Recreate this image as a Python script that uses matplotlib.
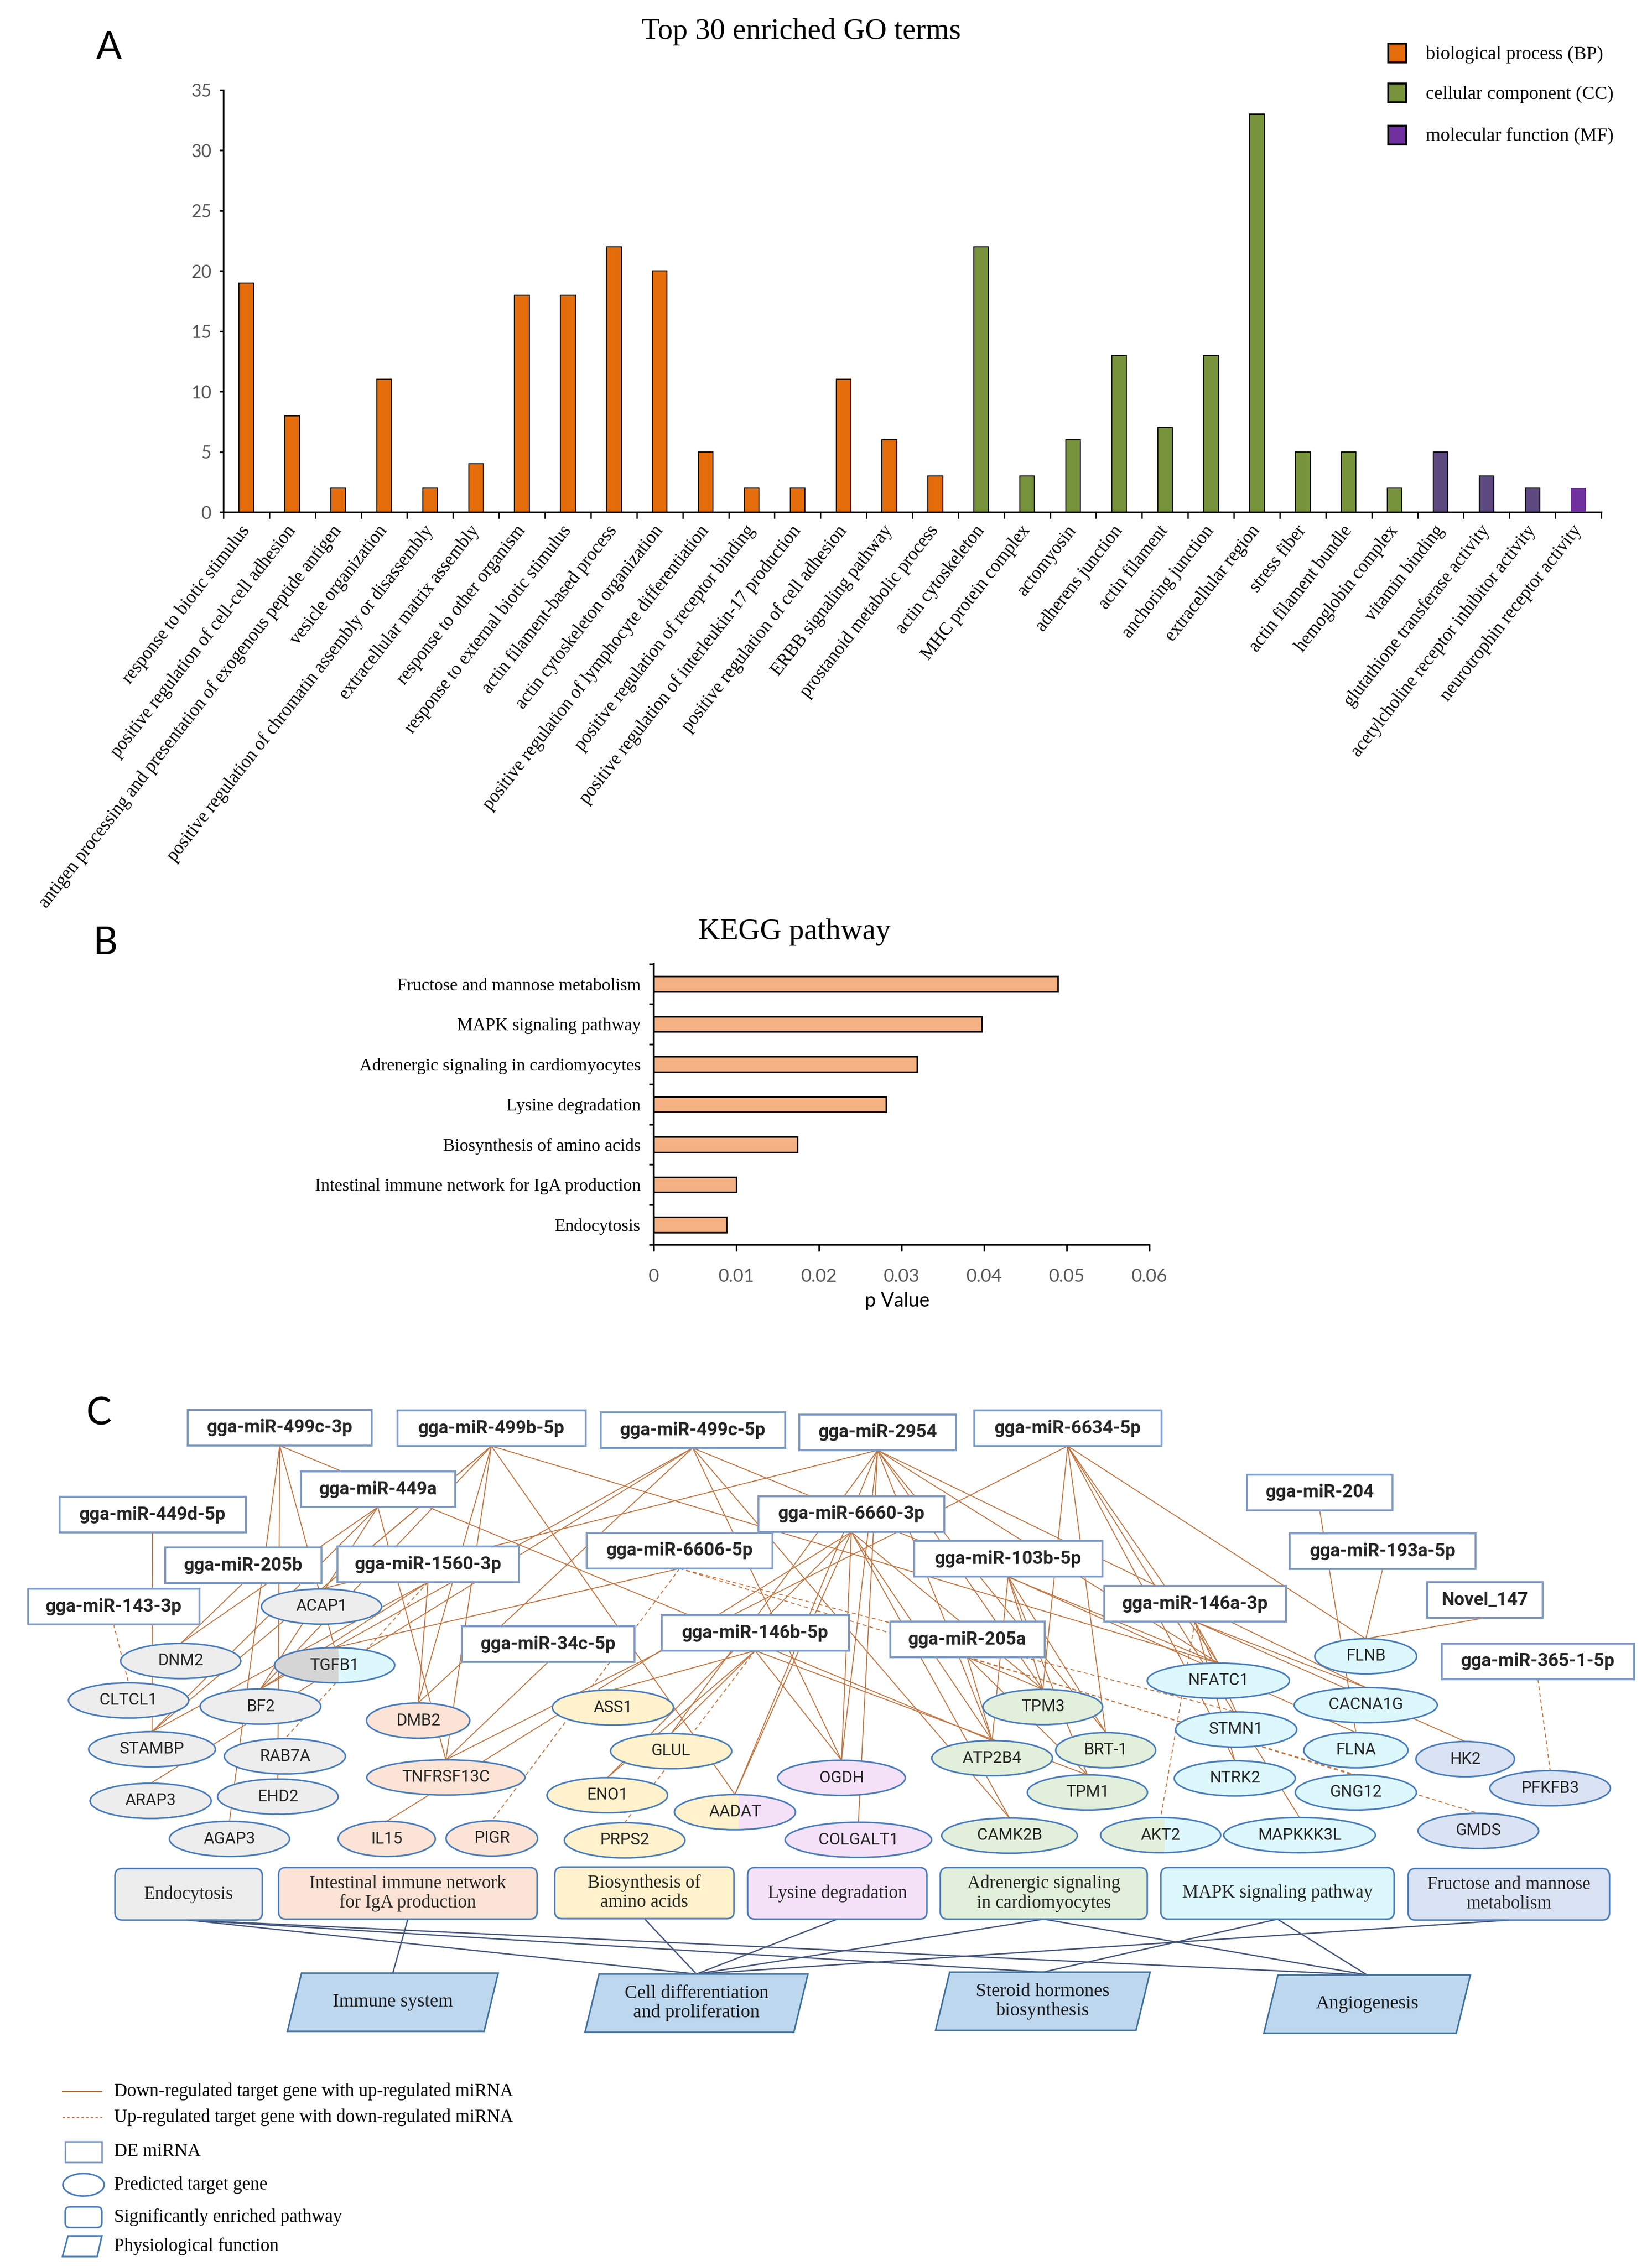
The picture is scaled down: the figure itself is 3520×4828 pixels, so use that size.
#!/usr/bin/env python3
# GO / KEGG enrichment bars and miRNA-target network (panels A, B, C)

import numpy as np
import matplotlib
matplotlib.use("Agg")
import matplotlib.pyplot as plt
from matplotlib.patches import Rectangle, Ellipse, FancyBboxPatch, Polygon

W, H = 3520, 4828
SERIF = "Liberation Serif"
SANS = "Lato"
NODE = "Roboto"

# ---------------- panel A data ----------------
go_terms = [
	"response to biotic stimulus",
	"positive regulation of cell-cell adhesion",
	"antigen processing and presentation of exogenous peptide antigen",
	"vesicle organization",
	"positive regulation of chromatin assembly or disassembly",
	"extracellular matrix assembly",
	"response to other organism",
	"response to external biotic stimulus",
	"actin filament-based process",
	"actin cytoskeleton organization",
	"positive regulation of lymphocyte differentiation",
	"positive regulation of receptor binding",
	"positive regulation of interleukin-17 production",
	"positive regulation of cell adhesion",
	"ERBB signaling pathway",
	"prostanoid metabolic process",
	"actin cytoskeleton",
	"MHC protein complex",
	"actomyosin",
	"adherens junction",
	"actin filament",
	"anchoring junction",
	"extracellular region",
	"stress fiber",
	"actin filament bundle",
	"hemoglobin complex",
	"vitamin binding",
	"glutathione transferase activity",
	"acetylcholine receptor inhibitor activity",
	"neurotrophin receptor activity",
]
go_counts = [19, 8, 2, 11, 2, 4, 18, 18, 22, 20, 5, 2, 2, 11, 6, 3,
	22, 3, 6, 13, 7, 13, 33, 5, 5, 2,
	5, 3, 2, 2]
go_class = ["BP"] * 16 + ["CC"] * 10 + ["MF"] * 4
go_legend = ["biological process (BP)", "cellular component (CC)", "molecular function (MF)"]

# ---------------- panel B data ----------------
kegg_terms = [
	"Fructose and mannose metabolism",
	"MAPK signaling pathway",
	"Adrenergic signaling in cardiomyocytes",
	"Lysine degradation",
	"Biosynthesis of amino acids",
	"Intestinal immune network for IgA production",
	"Endocytosis",
]
kegg_pvalues = [0.0489, 0.0397, 0.0319, 0.0281, 0.0174, 0.0100, 0.0088]
kegg_xticks = [0, 0.01, 0.02, 0.03, 0.04, 0.05, 0.06]

# ---------------- panel C data ----------------
mirnas = ["gga-miR-499c-3p", "gga-miR-499b-5p", "gga-miR-499c-5p", "gga-miR-2954",
	"gga-miR-6634-5p", "gga-miR-449a", "gga-miR-449d-5p", "gga-miR-6660-3p",
	"gga-miR-204", "gga-miR-205b", "gga-miR-1560-3p", "gga-miR-6606-5p",
	"gga-miR-103b-5p", "gga-miR-193a-5p", "Novel_147", "gga-miR-143-3p",
	"gga-miR-146a-3p", "gga-miR-34c-5p", "gga-miR-146b-5p", "gga-miR-205a",
	"gga-miR-365-1-5p"]

pathways = ["endo", "iga", "aa", "lys", "adr", "mapk", "fru"]
pathway_names = ["Endocytosis", "Intestinal immune network\nfor IgA production",
	"Biosynthesis of\namino acids", "Lysine degradation",
	"Adrenergic signaling\nin cardiomyocytes", "MAPK signaling pathway",
	"Fructose and mannose\nmetabolism"]

gene_pathway = {
	"ACAP1": ["endo"], "DNM2": ["endo"], "TGFB1": ["endo", "mapk"], "CLTCL1": ["endo"],
	"BF2": ["endo"], "STAMBP": ["endo"], "RAB7A": ["endo"], "ARAP3": ["endo"],
	"EHD2": ["endo"], "AGAP3": ["endo"],
	"DMB2": ["iga"], "TNFRSF13C": ["iga"], "IL15": ["iga"], "PIGR": ["iga"],
	"ASS1": ["aa"], "GLUL": ["aa"], "ENO1": ["aa"], "PRPS2": ["aa"], "AADAT": ["aa", "lys"],
	"OGDH": ["lys"], "COLGALT1": ["lys"],
	"TPM3": ["adr"], "ATP2B4": ["adr"], "BRT-1": ["adr"], "TPM1": ["adr"],
	"CAMK2B": ["adr"], "AKT2": ["adr", "mapk"],
	"NFATC1": ["mapk"], "STMN1": ["mapk"], "NTRK2": ["mapk"], "MAPKKK3L": ["mapk"],
	"FLNB": ["mapk"], "CACNA1G": ["mapk"], "FLNA": ["mapk"], "GNG12": ["mapk"],
	"HK2": ["fru"], "PFKFB3": ["fru"], "GMDS": ["fru"],
}

# (miRNA, target gene, regulation) - "down": target down / miRNA up (solid)
mirna_targets = [
	("gga-miR-499c-3p", "TGFB1", "down"), ("gga-miR-499c-3p", "EHD2", "down"),
	("gga-miR-499c-3p", "AGAP3", "down"), ("gga-miR-499c-3p", "ATP2B4", "down"),
	("gga-miR-499b-5p", "ACAP1", "down"), ("gga-miR-499b-5p", "STAMBP", "down"),
	("gga-miR-499b-5p", "BF2", "down"), ("gga-miR-499b-5p", "DMB2", "down"),
	("gga-miR-499b-5p", "TNFRSF13C", "down"), ("gga-miR-499b-5p", "NFATC1", "down"),
	("gga-miR-499b-5p", "AADAT", "down"),
	("gga-miR-499c-5p", "ARAP3", "down"), ("gga-miR-499c-5p", "DMB2", "down"),
	("gga-miR-499c-5p", "OGDH", "down"), ("gga-miR-499c-5p", "CAMK2B", "down"),
	("gga-miR-499c-5p", "BF2", "down"), ("gga-miR-499c-5p", "NFATC1", "down"),
	("gga-miR-2954", "ACAP1", "down"), ("gga-miR-2954", "GLUL", "down"),
	("gga-miR-2954", "OGDH", "down"), ("gga-miR-2954", "COLGALT1", "down"),
	("gga-miR-2954", "ATP2B4", "down"), ("gga-miR-2954", "TPM3", "down"),
	("gga-miR-2954", "BRT-1", "down"), ("gga-miR-2954", "NFATC1", "down"),
	("gga-miR-2954", "CACNA1G", "down"), ("gga-miR-2954", "AADAT", "down"),
	("gga-miR-6634-5p", "TNFRSF13C", "down"), ("gga-miR-6634-5p", "TPM3", "down"),
	("gga-miR-6634-5p", "BRT-1", "down"), ("gga-miR-6634-5p", "NFATC1", "down"),
	("gga-miR-6634-5p", "NTRK2", "down"), ("gga-miR-6634-5p", "MAPKKK3L", "down"),
	("gga-miR-6634-5p", "FLNB", "down"),
	("gga-miR-449a", "DNM2", "down"), ("gga-miR-449a", "STAMBP", "down"),
	("gga-miR-449a", "BF2", "down"), ("gga-miR-449a", "TNFRSF13C", "down"),
	("gga-miR-449d-5p", "STAMBP", "down"),
	("gga-miR-6660-3p", "IL15", "down"), ("gga-miR-6660-3p", "AADAT", "down"),
	("gga-miR-6660-3p", "OGDH", "down"), ("gga-miR-6660-3p", "ENO1", "down"),
	("gga-miR-6660-3p", "ATP2B4", "down"), ("gga-miR-6660-3p", "CAMK2B", "down"),
	("gga-miR-6660-3p", "TPM3", "down"),
	("gga-miR-204", "FLNA", "down"),
	("gga-miR-205b", "DNM2", "down"),
	("gga-miR-1560-3p", "DMB2", "down"), ("gga-miR-1560-3p", "BF2", "down"),
	("gga-miR-1560-3p", "STAMBP", "down"), ("gga-miR-1560-3p", "RAB7A", "up"),
	("gga-miR-6606-5p", "TGFB1", "down"), ("gga-miR-6606-5p", "PIGR", "up"),
	("gga-miR-6606-5p", "STMN1", "up"), ("gga-miR-6606-5p", "GMDS", "up"),
	("gga-miR-103b-5p", "TPM3", "down"), ("gga-miR-103b-5p", "ATP2B4", "down"),
	("gga-miR-103b-5p", "BRT-1", "down"), ("gga-miR-103b-5p", "TPM1", "down"),
	("gga-miR-103b-5p", "FLNA", "down"),
	("gga-miR-193a-5p", "FLNB", "down"),
	("Novel_147", "FLNB", "down"),
	("gga-miR-143-3p", "CLTCL1", "up"),
	("gga-miR-146a-3p", "AKT2", "up"), ("gga-miR-146a-3p", "CACNA1G", "down"),
	("gga-miR-146a-3p", "HK2", "down"), ("gga-miR-146a-3p", "NTRK2", "down"),
	("gga-miR-146a-3p", "NFATC1", "down"), ("gga-miR-146a-3p", "STMN1", "down"),
	("gga-miR-34c-5p", "TNFRSF13C", "down"),
	("gga-miR-146b-5p", "ASS1", "down"), ("gga-miR-146b-5p", "GLUL", "down"),
	("gga-miR-146b-5p", "PRPS2", "up"), ("gga-miR-146b-5p", "OGDH", "down"),
	("gga-miR-146b-5p", "TPM1", "down"), ("gga-miR-146b-5p", "ENO1", "down"),
	("gga-miR-205a", "TPM3", "down"), ("gga-miR-205a", "ATP2B4", "down"),
	("gga-miR-205a", "TPM1", "down"), ("gga-miR-205a", "GNG12", "up"),
	("gga-miR-365-1-5p", "PFKFB3", "up"),
]

functions = ["Immune system", "Cell differentiation\nand proliferation",
	"Steroid hormones\nbiosynthesis", "Angiogenesis"]
pathway_function = [
	("endo", 1), ("endo", 2), ("endo", 3), ("iga", 0), ("aa", 1), ("lys", 1),
	("adr", 1), ("adr", 3), ("mapk", 2), ("mapk", 3), ("fru", 1),
]

# ---------------- panel C layout (pixel positions, y down) ----------------
mir_xy = {
	"gga-miR-499c-3p": (596, 3042, 392), "gga-miR-499b-5p": (1047, 3043, 401),
	"gga-miR-499c-5p": (1476, 3047, 393), "gga-miR-2954": (1870, 3052, 334),
	"gga-miR-6634-5p": (2275, 3043, 399), "gga-miR-449a": (805, 3173, 329),
	"gga-miR-449d-5p": (325, 3227, 397), "gga-miR-6660-3p": (1814, 3226, 396),
	"gga-miR-204": (2812, 3180, 310), "gga-miR-205b": (518, 3335, 333),
	"gga-miR-1560-3p": (912, 3333, 387), "gga-miR-6606-5p": (1448, 3304, 396),
	"gga-miR-103b-5p": (2148, 3321, 401), "gga-miR-193a-5p": (2946, 3305, 396),
	"Novel_147": (3164, 3409, 246), "gga-miR-143-3p": (242, 3423, 365),
	"gga-miR-146a-3p": (2546, 3417, 387), "gga-miR-34c-5p": (1168, 3503, 368),
	"gga-miR-146b-5p": (1609, 3479, 399), "gga-miR-205a": (2061, 3493, 329),
	"gga-miR-365-1-5p": (3277, 3540, 410),
}
gene_xy = {
	"ACAP1": (685, 3423, 256), "DNM2": (385, 3539, 256), "TGFB1": (713, 3548, 256),
	"CLTCL1": (274, 3623, 256), "BF2": (555, 3636, 257), "STAMBP": (324, 3727, 270),
	"RAB7A": (607, 3742, 258), "ARAP3": (321, 3837, 258), "EHD2": (592, 3828, 257),
	"AGAP3": (489, 3918, 256), "DMB2": (891, 3666, 220), "TNFRSF13C": (950, 3787, 337),
	"IL15": (824, 3918, 207), "PIGR": (1048, 3917, 195), "ASS1": (1306, 3638, 258),
	"GLUL": (1430, 3731, 258), "ENO1": (1294, 3825, 257), "PRPS2": (1331, 3921, 257),
	"AADAT": (1566, 3861, 258), "OGDH": (1793, 3788, 272), "COLGALT1": (1829, 3920, 312),
	"TPM3": (2222, 3637, 255), "ATP2B4": (2114, 3746, 257), "BRT-1": (2356, 3729, 213),
	"TPM1": (2317, 3819, 256), "CAMK2B": (2151, 3911, 289), "AKT2": (2473, 3910, 256),
	"NFATC1": (2596, 3581, 303), "STMN1": (2634, 3685, 258), "NTRK2": (2631, 3789, 258),
	"MAPKKK3L": (2769, 3910, 323), "FLNB": (2910, 3529, 217), "CACNA1G": (2910, 3633, 305),
	"FLNA": (2889, 3729, 222), "GNG12": (2889, 3819, 258), "HK2": (3122, 3748, 210),
	"PFKFB3": (3303, 3810, 257), "GMDS": (3150, 3901, 257),
}
pathway_xy = {
	"endo": (402, 4036, 314), "iga": (869, 4034, 551), "aa": (1373, 4033, 382),
	"lys": (1784, 4034, 382), "adr": (2224, 4034, 441), "mapk": (2722, 4034, 497),
	"fru": (3215, 4036, 429),
}
function_xy = [(837, 4266, 419), (1484, 4268, 445), (2222, 4264, 427), (2913, 4270, 410)]

MIR_H, GENE_H, PATH_H, FUNC_H, SKEW = 76, 75, 110, 124, 30

pathway_fill = {"endo": "#EDEDED", "iga": "#FBE4D6", "aa": "#FFF2CC", "lys": "#F4E1F8",
	"adr": "#E2EFDA", "mapk": "#DDF8FC", "fru": "#DAE3F3"}
class_color = {"BP": "#E46C0A", "CC": "#77933C", "MF": "#7030A0"}

MIR_EDGE = "#7F9BC3"
NODE_EDGE = "#4A7DBA"
LINK = "#BF7744"
PATH_LINK = "#44557A"


def main():
	fig = plt.figure(figsize=(W / 100, H / 100), dpi=100)
	fig.patch.set_facecolor("white")

	# full-figure pixel canvas for panel C, labels and legend
	axC = fig.add_axes([0, 0, 1, 1])
	axC.set_xlim(0, W)
	axC.set_ylim(H, 0)
	axC.axis("off")

	for letter, (lx, ly) in zip("ABC", [(232, 102), (225, 2010), (210, 3013)]):
		axC.text(lx, ly, letter, fontsize=58, family=SANS, ha="center", va="center")

	# ---------------- panel A ----------------
	axA = fig.add_axes([476 / W, 1 - 1091 / H, 2936 / W, 899 / H])
	axA.patch.set_alpha(0)
	xs = np.arange(len(go_terms))
	colors = [class_color[c] for c in go_class]
	mf_idx = [i for i, c in enumerate(go_class) if c == "MF"]
	for i in mf_idx[:-1]:
		colors[i] = "#5E4A80"
	edges = ["black"] * len(xs)
	edges[mf_idx[-1]] = "none"
	axA.bar(xs, go_counts, width=0.32, color=colors, edgecolor=edges, linewidth=1.6, zorder=3)
	axA.set_xlim(-0.5, len(xs) - 0.5)
	axA.set_ylim(0, 35)
	axA.set_yticks(np.arange(0, 36, 5))
	for side in ["top", "right"]:
		axA.spines[side].set_visible(False)
	for side in ["left", "bottom"]:
		axA.spines[side].set_linewidth(2.5)
	axA.tick_params(axis="y", direction="out", length=6, width=2.5, pad=12,
		labelsize=27, labelcolor="#595959")
	for t in axA.get_yticklabels():
		t.set_family(SANS)
	axA.set_xticks(xs)
	axA.set_xticklabels(go_terms, rotation=52, ha="right", va="center",
		rotation_mode="anchor", fontsize=28, family=SERIF)
	axA.set_xticks(np.arange(-0.5, len(xs), 1), minor=True)
	axA.tick_params(axis="x", which="major", length=0, pad=24)
	axA.tick_params(axis="x", which="minor", length=10, width=2, direction="out")

	axC.text(1707, 68, "Top 30 enriched GO terms", fontsize=46, family=SERIF,
		ha="center", va="center")
	for k, (label, cy) in enumerate(zip(go_legend, [113, 198, 288])):
		axC.add_patch(Rectangle((2958, cy - 20), 38, 40, facecolor=class_color[["BP", "CC", "MF"][k]],
			edgecolor="black", linewidth=3, zorder=5))
		axC.text(3038, cy + 3, label, fontsize=29, family=SERIF, ha="left", va="center",
			zorder=5)

	# ---------------- panel B ----------------
	axB = fig.add_axes([1393 / W, 1 - 2652 / H, 1056 / W, 598 / H])
	axB.patch.set_alpha(0)
	ys = np.arange(len(kegg_terms))
	axB.barh(ys, kegg_pvalues, height=0.38, color="#F4B183", edgecolor="black",
		linewidth=2.4, zorder=3)
	axB.set_ylim(len(ys) - 0.5, -0.5)
	axB.set_xlim(0, 0.06)
	for side in ["top", "right"]:
		axB.spines[side].set_visible(False)
	for side in ["left", "bottom"]:
		axB.spines[side].set_linewidth(3)
	axB.set_yticks(ys)
	axB.set_yticklabels(kegg_terms, fontsize=27, family=SERIF)
	axB.set_yticks(np.arange(-0.5, len(ys), 1), minor=True)
	axB.tick_params(axis="y", which="major", length=0, pad=20)
	axB.tick_params(axis="y", which="minor", length=7, width=2.5, direction="out")
	axB.set_xticks(kegg_xticks)
	axB.set_xticklabels([f"{v:g}" for v in kegg_xticks], fontsize=28, family=SANS,
		color="#595959")
	axB.tick_params(axis="x", length=10, width=2.5, direction="out", pad=26)
	axC.text(1693, 1986, "KEGG pathway", fontsize=46, family=SERIF, ha="center", va="center")
	axC.text(1912, 2772, "p Value", fontsize=30, family=SANS, ha="center", va="center")

	# ---------------- panel C ----------------
	# miRNA -> gene links
	for mir, gene, reg in mirna_targets:
		mx, my, _ = mir_xy[mir]
		gx, gy, _ = gene_xy[gene]
		ls = "-" if reg == "down" else (0, (4, 3))
		axC.plot([mx, gx], [my + MIR_H / 2, gy - GENE_H / 2], color=LINK, lw=1.5,
			ls=ls, zorder=1)

	# pathway -> function links
	for pw, fi in pathway_function:
		px_, py_, _ = pathway_xy[pw]
		fx, fy, _ = function_xy[fi]
		axC.plot([px_, fx], [py_ + PATH_H / 2, fy - FUNC_H / 2], color=PATH_LINK,
			lw=2.0, zorder=1)

	for mir in mirnas:
		x, y, w = mir_xy[mir]
		axC.add_patch(Rectangle((x - w / 2, y - MIR_H / 2), w, MIR_H, facecolor="white",
			edgecolor=MIR_EDGE, linewidth=3, zorder=3))
		axC.text(x, y, mir, fontsize=28, family=NODE, weight="bold", color="#262626",
			ha="center", va="center", zorder=4)

	for gene, pws in gene_pathway.items():
		x, y, w = gene_xy[gene]
		h = GENE_H
		fill = pathway_fill[pws[0]]
		if gene == "TGFB1":
			fill = "#D5D5D5"
		axC.add_patch(Ellipse((x, y), w, h, facecolor=fill, edgecolor="none", zorder=3))
		if len(pws) > 1:
			right = Ellipse((x, y), w, h, facecolor=pathway_fill[pws[1]], edgecolor="none",
				zorder=3)
			axC.add_patch(right)
			clip = Rectangle((x + w * 0.03, y - h), w, 2 * h, transform=axC.transData)
			right.set_clip_path(clip)
		axC.add_patch(Ellipse((x, y), w, h, facecolor="none", edgecolor=NODE_EDGE,
			linewidth=2.4, zorder=3))
		axC.text(x, y, gene, fontsize=25, family=NODE, color="#262626",
			ha="center", va="center", zorder=4)

	for pw, name in zip(pathways, pathway_names):
		x, y, w = pathway_xy[pw]
		axC.add_patch(FancyBboxPatch((x - w / 2, y - PATH_H / 2), w, PATH_H,
			boxstyle="round,pad=0,rounding_size=16", facecolor=pathway_fill[pw],
			edgecolor=NODE_EDGE, linewidth=2.4, zorder=3))
		axC.text(x, y, name, fontsize=28, family=SERIF, color="#262626", ha="center",
			va="center", linespacing=1.15, zorder=4)

	for name, (x, y, w) in zip(functions, function_xy):
		top, bot = y - FUNC_H / 2, y + FUNC_H / 2
		pts = [(x - w / 2 + SKEW / 2, top), (x + w / 2 + SKEW / 2, top),
			(x + w / 2 - SKEW / 2, bot), (x - w / 2 - SKEW / 2, bot)]
		axC.add_patch(Polygon(pts, closed=True, facecolor="#BDD7EE", edgecolor="#41719C",
			linewidth=2.4, zorder=3))
		axC.text(x, y, name, fontsize=29, family=SERIF, color="#1A1A1A", ha="center",
			va="center", linespacing=1.15, zorder=4)

	# legend of panel C
	axC.plot([133, 217], [4456, 4456], color=LINK, lw=1.5)
	axC.plot([133, 217], [4511, 4511], color=LINK, lw=1.8, ls=(0, (2, 2)))
	axC.add_patch(Rectangle((139, 4563), 78, 44, facecolor="white", edgecolor=MIR_EDGE,
		linewidth=2.5))
	axC.add_patch(Ellipse((178, 4655), 88, 48, facecolor="white", edgecolor=NODE_EDGE,
		linewidth=2.5))
	axC.add_patch(FancyBboxPatch((139, 4702), 78, 44, boxstyle="round,pad=0,rounding_size=10",
		facecolor="white", edgecolor=NODE_EDGE, linewidth=2.5))
	axC.add_patch(Polygon([(145, 4764), (217, 4764), (207, 4808), (133, 4808)], closed=True,
		facecolor="white", edgecolor=NODE_EDGE, linewidth=2.5))
	legend_c = [("Down-regulated target gene with up-regulated miRNA", 4456),
		("Up-regulated target gene with down-regulated miRNA", 4511),
		("DE miRNA", 4585), ("Predicted target gene", 4655),
		("Significantly enriched pathway", 4724), ("Physiological function", 4786)]
	for label, ly in legend_c:
		axC.text(243, ly, label, fontsize=28, family=SERIF, ha="left", va="center")

	fig.savefig("out.png", dpi=100, facecolor="white")


if __name__ == "__main__":
	main()
